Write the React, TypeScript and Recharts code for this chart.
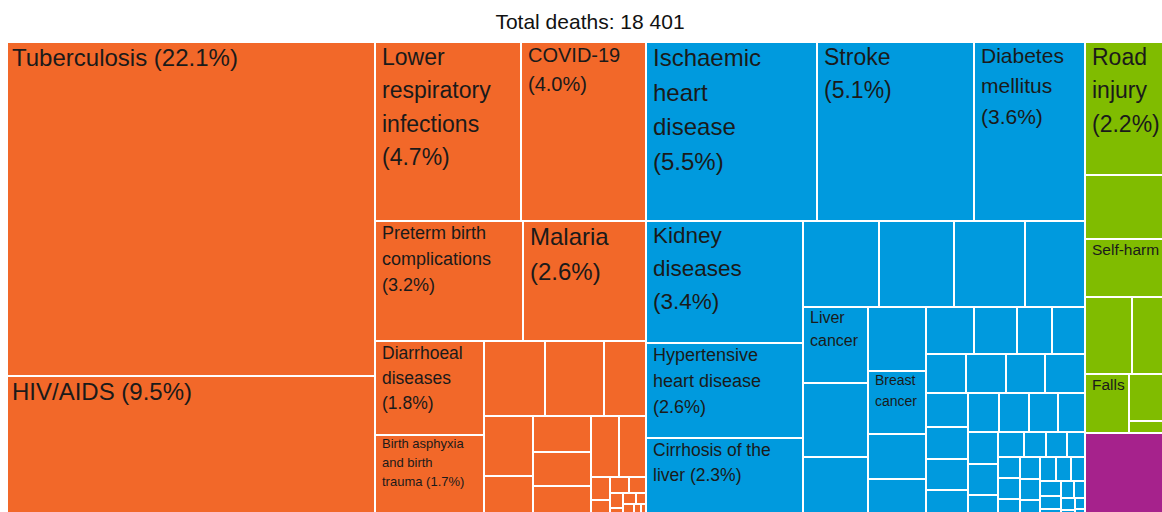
import { Treemap } from "recharts";

// top-level cause groups, in the order they are laid out
const groupNames = ["Communicable", "Noncommunicable", "Injuries", "Other"];
const groupColors = ["#f26829", "#009ade", "#80bc00", "#a6228c"];

// share of total deaths (%); unnamed cells carry no label
const communicableNames = [
	"Tuberculosis",
	"HIV/AIDS",
	"Lower respiratory infections",
	"COVID-19",
	"Preterm birth complications",
	"Malaria",
	"Diarrhoeal diseases",
	"Birth asphyxia and birth trauma",
];
const communicableValues = [
	22.1, 9.5, 4.7, 4.0, 3.2, 2.65, 1.84, 1.66, 0.816, 0.79, 0.574, 0.527, 0.387,
	0.375, 0.357, 0.351, 0.309, 0.292, 0.08, 0.066, 0.056, 0.045, 0.035, 0.03,
	0.025, 0.02, 0.018, 0.015, 0.012, 0.01, 0.008, 0.005,
];

const noncommunicableNames = [
	"Ischaemic heart disease",
	"Stroke",
	"Diabetes mellitus",
	"Kidney diseases",
	"Hypertensive heart disease",
	"Cirrhosis of the liver",
	"",
	"",
	"",
	"",
	"Liver cancer",
	"",
	"",
	"",
	"Breast cancer",
];
const noncommunicableValues = [
	5.5, 5.06, 3.58, 3.45, 2.68, 2.3, 1.177, 1.154, 1.092, 0.945, 0.891, 0.861,
	0.755, 0.665, 0.66, 0.47, 0.418, 0.402, 0.364, 0.296, 0.284, 0.284, 0.284,
	0.274, 0.26, 0.254, 0.24, 0.235, 0.222, 0.22, 0.212, 0.2, 0.186, 0.173, 0.165,
	0.138, 0.115, 0.099, 0.095, 0.086, 0.085, 0.083, 0.08, 0.078, 0.075, 0.072,
	0.07, 0.065, 0.06, 0.055, 0.05, 0.045, 0.04, 0.035, 0.03, 0.025, 0.02, 0.015,
	0.01,
];

const injuryNames = ["Road injury", "", "Self-harm", "", "", "Falls"];
const injuryValues = [2.15, 1.03, 0.94, 0.648, 0.593, 0.47, 0.385, 0.106];

const otherNames = [""];
const otherValues = [1.4];

// label text as it is broken in the picture
const labelLines: Record<string, string[]> = {
	Tuberculosis: ["Tuberculosis (22.1%)"],
	"HIV/AIDS": ["HIV/AIDS (9.5%)"],
	"Lower respiratory infections": ["Lower", "respiratory", "infections", "(4.7%)"],
	"COVID-19": ["COVID-19", "(4.0%)"],
	"Preterm birth complications": ["Preterm birth", "complications", "(3.2%)"],
	Malaria: ["Malaria", "(2.6%)"],
	"Diarrhoeal diseases": ["Diarrhoeal", "diseases", "(1.8%)"],
	"Birth asphyxia and birth trauma": ["Birth asphyxia", "and birth", "trauma (1.7%)"],
	"Ischaemic heart disease": ["Ischaemic", "heart", "disease", "(5.5%)"],
	Stroke: ["Stroke", "(5.1%)"],
	"Diabetes mellitus": ["Diabetes", "mellitus", "(3.6%)"],
	"Kidney diseases": ["Kidney", "diseases", "(3.4%)"],
	"Hypertensive heart disease": ["Hypertensive", "heart disease", "(2.6%)"],
	"Cirrhosis of the liver": ["Cirrhosis of the", "liver (2.3%)"],
	"Liver cancer": ["Liver", "cancer"],
	"Breast cancer": ["Breast", "cancer"],
	"Road injury": ["Road", "injury", "(2.2%)"],
	"Self-harm": ["Self-harm"],
	Falls: ["Falls"],
};

const labelSize: Record<string, number> = {
	Tuberculosis: 24,
	"HIV/AIDS": 24,
	"Lower respiratory infections": 23,
	"COVID-19": 20,
	"Preterm birth complications": 18,
	Malaria: 24,
	"Diarrhoeal diseases": 17.5,
	"Birth asphyxia and birth trauma": 13,
	"Ischaemic heart disease": 24,
	Stroke: 23,
	"Diabetes mellitus": 21,
	"Kidney diseases": 22.5,
	"Hypertensive heart disease": 18,
	"Cirrhosis of the liver": 17.5,
	"Liver cancer": 16,
	"Breast cancer": 14,
	"Road injury": 23,
	"Self-harm": 15.5,
	Falls: 15.5,
};

const buildGroup = (g: number, names: string[], values: number[]) => ({
	name: groupNames[g],
	children: values.map((v, i) => ({ name: names[i] ?? "", value: v, group: g })),
});

const treeData = [
	buildGroup(0, communicableNames, communicableValues),
	buildGroup(1, noncommunicableNames, noncommunicableValues),
	buildGroup(2, injuryNames, injuryValues),
	buildGroup(3, otherNames, otherValues),
];

const font = "'Liberation Sans', Arial, Helvetica, sans-serif";

const renderCell = (props: any) => {
	const { depth, x, y, width, height, name, group } = props;
	if (depth !== 2 || width <= 2 || height <= 2) return <g />;
	const lines = labelLines[name];
	const size = labelSize[name] ?? 14;
	const lh = size * 1.45;
	const tx = x + (x < 5 ? 5 : 7);
	return (
		<g>
			<rect
				x={x + 1}
				y={y + 1}
				width={width - 2}
				height={height - 2}
				fill={groupColors[group]}
			/>
			{lines && (
				<text
					x={tx}
					y={y + 1 + size * 0.95}
					fontSize={size}
					fontFamily={font}
					fill="#1a1a1a"
				>
					{lines.map((l, i) => (
						<tspan key={l} x={tx} dy={i === 0 ? 0 : lh}>
							{l}
						</tspan>
					))}
				</text>
			)}
		</g>
	);
};

export default function App() {
	return (
		<div
			style={{
				position: "fixed",
				left: 0,
				top: 0,
				width: 1162,
				height: 512,
				overflow: "hidden",
				background: "#fff",
				fontFamily: font,
			}}
		>
			<div
				style={{
					position: "absolute",
					left: 6,
					top: 9,
					width: 1168,
					textAlign: "center",
					fontSize: 21,
					lineHeight: "25px",
					color: "#111",
				}}
			>
				Total deaths: 18 401
			</div>
			<div style={{ position: "absolute", left: 7, top: 42 }}>
				<Treemap
					width={1168}
					height={478}
					data={treeData}
					dataKey="value"
					nameKey="name"
					aspectRatio={1.2}
					isAnimationActive={false}
					content={renderCell}
				/>
			</div>
		</div>
	);
}
